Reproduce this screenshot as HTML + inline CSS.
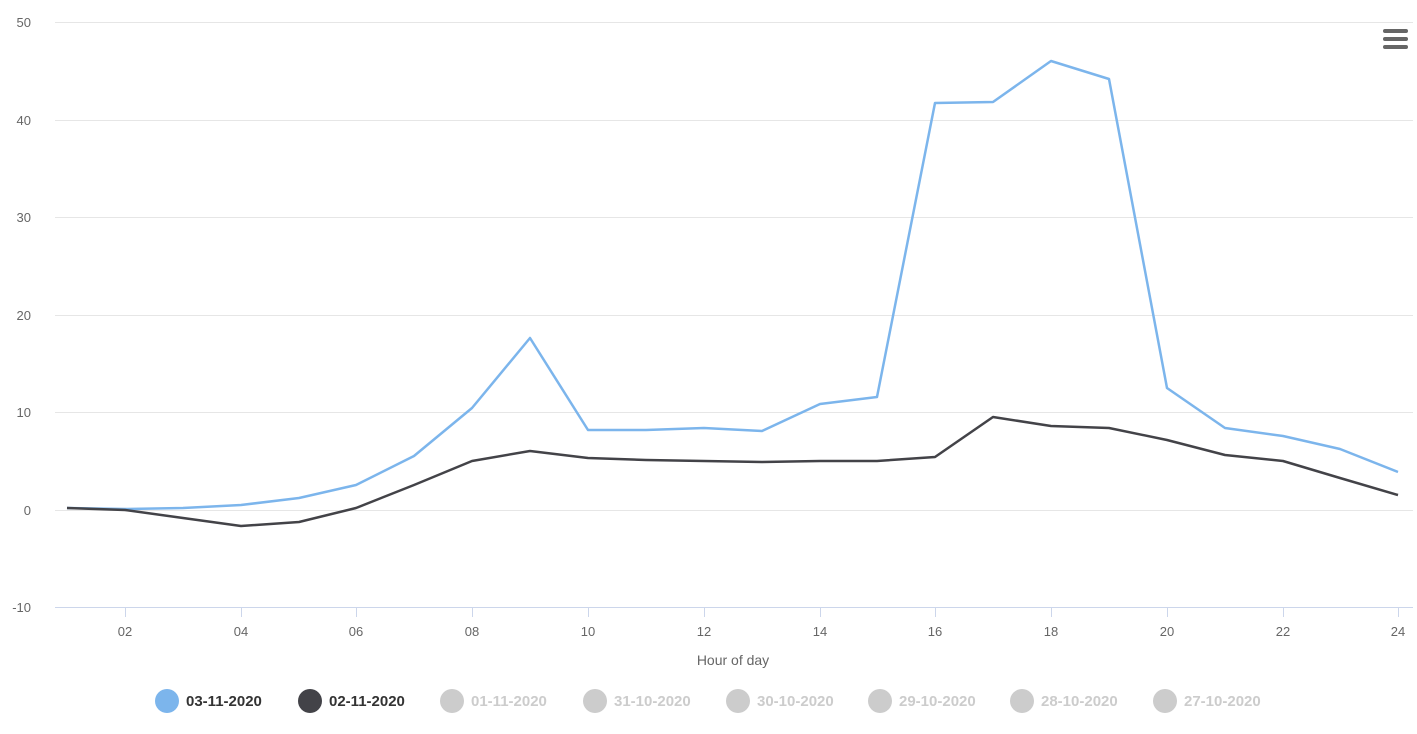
<!DOCTYPE html>
<html><head><meta charset="utf-8"><style>
body{margin:0;background:#fff;width:1417px;height:729px;overflow:hidden;font-family:"Liberation Sans",sans-serif}
</style></head><body>
<svg width="1417" height="729" xmlns="http://www.w3.org/2000/svg" font-family="Liberation Sans, sans-serif">
<g stroke="#e6e6e6" stroke-width="1">
<line x1="55" x2="1413" y1="22.5" y2="22.5"/><line x1="55" x2="1413" y1="120.5" y2="120.5"/>
<line x1="55" x2="1413" y1="217.5" y2="217.5"/><line x1="55" x2="1413" y1="315.5" y2="315.5"/>
<line x1="55" x2="1413" y1="412.5" y2="412.5"/><line x1="55" x2="1413" y1="510.5" y2="510.5"/>
</g>
<line x1="55" x2="1413" y1="607.5" y2="607.5" stroke="#ccd6eb"/>
<g stroke="#ccd6eb"><line x1="125.5" x2="125.5" y1="607" y2="617"/><line x1="241.5" x2="241.5" y1="607" y2="617"/><line x1="356.5" x2="356.5" y1="607" y2="617"/><line x1="472.5" x2="472.5" y1="607" y2="617"/><line x1="588.5" x2="588.5" y1="607" y2="617"/><line x1="704.5" x2="704.5" y1="607" y2="617"/><line x1="820.5" x2="820.5" y1="607" y2="617"/><line x1="935.5" x2="935.5" y1="607" y2="617"/><line x1="1051.5" x2="1051.5" y1="607" y2="617"/><line x1="1167.5" x2="1167.5" y1="607" y2="617"/><line x1="1283.5" x2="1283.5" y1="607" y2="617"/><line x1="1398.5" x2="1398.5" y1="607" y2="617"/></g>
<g fill="#666" font-size="13" text-anchor="end">
<text x="31" y="27">50</text><text x="31" y="125">40</text><text x="31" y="222">30</text><text x="31" y="320">20</text><text x="31" y="417">10</text><text x="31" y="515">0</text><text x="31" y="612">-10</text>
</g>
<g fill="#666" font-size="13" text-anchor="middle">
<text x="125" y="636">02</text><text x="241" y="636">04</text><text x="356" y="636">06</text><text x="472" y="636">08</text><text x="588" y="636">10</text><text x="704" y="636">12</text><text x="820" y="636">14</text><text x="935" y="636">16</text><text x="1051" y="636">18</text><text x="1167" y="636">20</text><text x="1283" y="636">22</text><text x="1398" y="636">24</text>
<text x="733" y="665" font-size="14">Hour of day</text>
</g>
<polyline fill="none" stroke="#7cb5ec" stroke-width="2.5" stroke-linejoin="round" points="67,508 125,509 183,508 241,505 299,498 356,485 414,456 472,408 530,338 588,430 646,430 704,428 762,431 820,404 877,397 935,103 993,102 1051,61 1109,79 1167,388 1225,428 1283,436 1340,449 1398,472"/>
<polyline fill="none" stroke="#434348" stroke-width="2.5" stroke-linejoin="round" points="67,508 125,510 183,518 241,526 299,522 356,508 414,485 472,461 530,451 588,458 646,460 704,461 762,462 820,461 877,461 935,457 993,417 1051,426 1109,428 1167,440 1225,455 1283,461 1340,478 1398,495"/>
<g fill="#666"><rect x="1383" y="29" width="25" height="4" rx="2"/><rect x="1383" y="37" width="25" height="4" rx="2"/><rect x="1383" y="45" width="25" height="4" rx="2"/></g>
<g font-size="15" font-weight="bold">
<circle cx="167" cy="701" r="12" fill="#7cb5ec"/><text x="186" y="706" fill="#333">03-11-2020</text>
<circle cx="310" cy="701" r="12" fill="#434348"/><text x="329" y="706" fill="#333">02-11-2020</text>
<circle cx="452" cy="701" r="12" fill="#ccc"/><text x="471" y="706" fill="#ccc">01-11-2020</text>
<circle cx="595" cy="701" r="12" fill="#ccc"/><text x="614" y="706" fill="#ccc">31-10-2020</text>
<circle cx="738" cy="701" r="12" fill="#ccc"/><text x="757" y="706" fill="#ccc">30-10-2020</text>
<circle cx="880" cy="701" r="12" fill="#ccc"/><text x="899" y="706" fill="#ccc">29-10-2020</text>
<circle cx="1022" cy="701" r="12" fill="#ccc"/><text x="1041" y="706" fill="#ccc">28-10-2020</text>
<circle cx="1165" cy="701" r="12" fill="#ccc"/><text x="1184" y="706" fill="#ccc">27-10-2020</text>
</g>
</svg>
</body></html>
